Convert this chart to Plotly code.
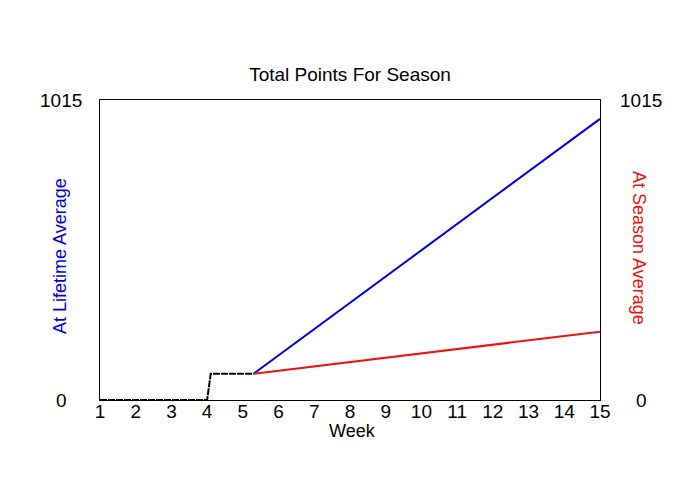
import plotly.graph_objects as go

# Data
black_weeks = [1, 4, 4.1, 5.3]
black_points = [0, 0, 89, 89]
lifetime_weeks = [5.3, 15]
lifetime_points = [89, 951]
season_weeks = [5.3, 15]
season_points = [89, 231]
week_ticks = list(range(1, 16))
y_ticks = [0, 1015]

FONT = "Liberation Sans, Arial, sans-serif"
BLUE = "#0000dd"
RED = "#ee1111"

fig = go.Figure()
fig.add_trace(go.Scatter(x=black_weeks, y=black_points, mode="lines",
                         line=dict(color="black", width=2, dash="7px,1px"),
                         showlegend=False, hoverinfo="skip"))
fig.add_trace(go.Scatter(x=lifetime_weeks, y=lifetime_points, mode="lines",
                         line=dict(color=BLUE, width=2), showlegend=False))
fig.add_trace(go.Scatter(x=season_weeks, y=season_points, mode="lines",
                         line=dict(color=RED, width=2), showlegend=False))

annotations = []
for v in y_ticks:
    annotations.append(dict(x=-0.078, xref="paper", y=v, yref="y", text=str(v),
                            showarrow=False, xanchor="center", yanchor="middle",
                            font=dict(size=19, color="black", family=FONT)))
    annotations.append(dict(x=1.082, xref="paper", y=v, yref="y", text=str(v),
                            showarrow=False, xanchor="center", yanchor="middle",
                            font=dict(size=19, color="black", family=FONT)))
annotations.append(dict(x=-0.08, xref="paper", y=0.48, yref="paper",
                        text="At Lifetime Average", textangle=-90, showarrow=False,
                        xanchor="center", yanchor="middle",
                        font=dict(size=18, color=BLUE, family=FONT)))
annotations.append(dict(x=1.078, xref="paper", y=0.507, yref="paper",
                        text="At Season Average", textangle=90, showarrow=False,
                        xanchor="center", yanchor="middle",
                        font=dict(size=18, color=RED, family=FONT)))
annotations.append(dict(x=0.504, xref="paper", y=-0.103, yref="paper",
                        text="Week", showarrow=False,
                        xanchor="center", yanchor="middle",
                        font=dict(size=18, color="black", family=FONT)))

fig.update_layout(
    width=700, height=500,
    margin=dict(l=92, r=108, t=92, b=108),
    paper_bgcolor="white", plot_bgcolor="white",
    font=dict(family=FONT, color="black"),
    title=dict(text="Total Points For Season", x=(350 - 8) / 700, xanchor="center",
               yref="container", y=1 - (74 - 8) / 500, yanchor="middle",
               font=dict(size=19, color="black", family=FONT)),
    xaxis=dict(range=[1, 15], tickvals=week_ticks, ticks="", showgrid=False,
               zeroline=False, showline=True, linecolor="black", linewidth=1,
               mirror=True, tickfont=dict(size=19, color="black"),
               ticklabelstandoff=-6),
    yaxis=dict(range=[0, 1015], showticklabels=False, ticks="", showgrid=False,
               zeroline=False, showline=True, linecolor="black", linewidth=1,
               mirror=True),
    annotations=annotations,
)

fig.write_html("out.html")
